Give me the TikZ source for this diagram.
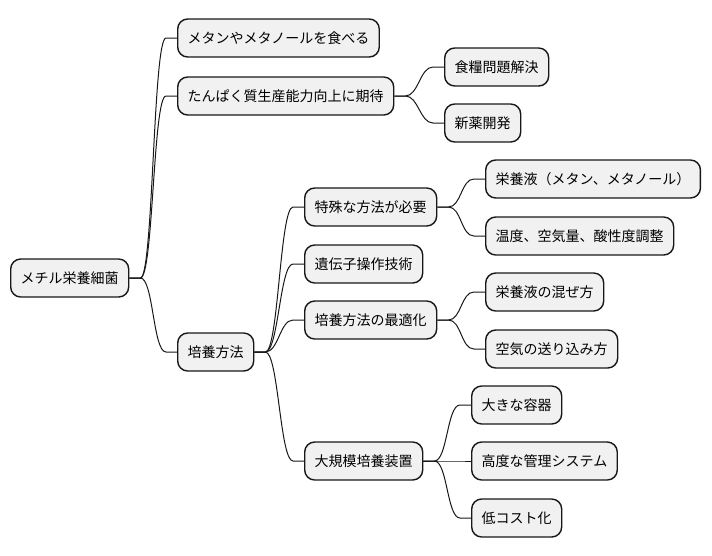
\documentclass[tikz,border=0pt]{standalone}
\usepackage{fontspec}
\setmainfont{Noto Sans CJK JP}
\usetikzlibrary{positioning, calc}
\definecolor{cfill}{HTML}{F1F1F1}
\definecolor{cline}{HTML}{181818}
\tikzset{
  every picture/.style={line width=1pt},
  topic/.style={draw=cline, fill=cfill, rounded corners=10pt, line width=1.4pt, anchor=west,
    inner xsep=10pt, minimum height=38pt, font=\fontsize{14}{16}\selectfont},
  link/.style={draw=cline, line width=1pt},
}
\begin{document}
\begin{tikzpicture}[x=1pt, y=-1pt]
  \useasboundingbox (0,0) rectangle (712,555);
  % root and first level
  \node[topic] (root) at (10,278) {メチル栄養細菌};
  \node[topic] (eat) at (177,38) {メタンやメタノールを食べる};
  \node[topic] (hope) at (177,96) {たんぱく質生産能力向上に期待};
  \node[topic] (food) at (444,67) {食糧問題解決};
  \node[topic] (drug) at (444,123) {新薬開発};
  \node[topic] (cult) at (177,352) {培養方法};
  % culture methods
  \node[topic] (spec) at (304,207) {特殊な方法が必要};
  \node[topic] (liq) at (485,179) {栄養液（メタン、メタノール）};
  \node[topic] (temp) at (485,236) {温度、空気量、酸性度調整};
  \node[topic] (gene) at (304,264) {遺伝子操作技術};
  \node[topic] (opt) at (304,320) {培養方法の最適化};
  \node[topic] (mix) at (485,292) {栄養液の混ぜ方};
  \node[topic] (air) at (485,349) {空気の送り込み方};
  \node[topic] (big) at (304,461) {大規模培養装置};
  \node[topic] (tank) at (471,405) {大きな容器};
  \node[topic] (ctrl) at (471,461) {高度な管理システム};
  \node[topic] (cost) at (471,518) {低コスト化};
  % branches
  \foreach \p/\c in {root/eat, root/hope, root/cult, hope/food, hope/drug,
      cult/spec, cult/gene, cult/opt, cult/big, spec/liq, spec/temp,
      opt/mix, opt/air, big/tank, big/ctrl, big/cost}
    \draw[link] (\p.east) -- ++(11,0) .. controls +(13,0) and +(-13,0) .. ([xshift=-11pt]\c.west) -- (\c.west);
\end{tikzpicture}
\end{document}
